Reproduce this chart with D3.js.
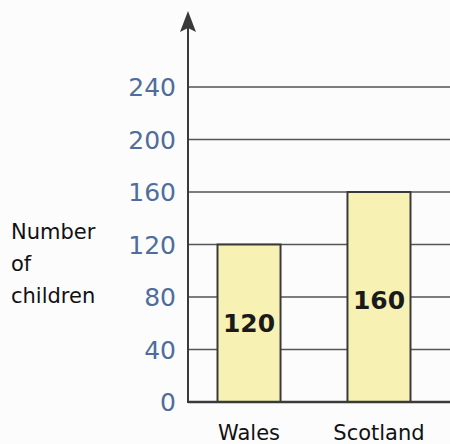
<!DOCTYPE html>
<html>
<head>
<meta charset="utf-8">
<script src="https://cdn.jsdelivr.net/npm/d3@7"></script>
<style>
  html, body { margin: 0; padding: 0; background: #fcfcfc; }
  svg { display: block; }
</style>
</head>
<body>
<svg id="chart" width="450" height="444"></svg>
<script>
const categories = ["Wales", "Scotland"];
const values = [120, 160];
const handLabels = ["120", "160"];
const yTicks = [0, 40, 80, 120, 160, 200, 240];
const yTitle = ["Number", "of", "children"];

const svg = d3.select("#chart");
const W = 450, H = 444;
const axisX = 188, baseY = 402, topY = 87;

const y = d3.scaleLinear().domain([0, 240]).range([baseY, topY]);
const x = d3.scaleBand().domain(categories).range([axisX, 440])
  .paddingInner(0.515).paddingOuter(0.227);

// gridlines
svg.append("g").selectAll("line").data(yTicks.filter(d => d > 0)).join("line")
  .attr("x1", axisX).attr("x2", W)
  .attr("y1", d => y(d)).attr("y2", d => y(d))
  .attr("stroke", "#555").attr("stroke-width", 1.4);

// bars
svg.append("g").selectAll("rect").data(values).join("rect")
  .attr("x", (d, i) => x(categories[i]))
  .attr("y", d => y(d))
  .attr("width", x.bandwidth())
  .attr("height", d => baseY - y(d))
  .attr("fill", "#f8f1b4")
  .attr("stroke", "#3a3a3a").attr("stroke-width", 2);

// baseline
svg.append("line").attr("x1", axisX).attr("x2", W)
  .attr("y1", baseY).attr("y2", baseY)
  .attr("stroke", "#3a3a3a").attr("stroke-width", 2.5);

// y axis line with arrow
svg.append("line").attr("x1", axisX).attr("x2", axisX)
  .attr("y1", baseY + 1).attr("y2", 16)
  .attr("stroke", "#3a3a3a").attr("stroke-width", 2);
svg.append("path")
  .attr("d", `M${axisX},11 L${axisX + 8},32 L${axisX},28 L${axisX - 8},32 Z`)
  .attr("fill", "#3a3a3a");

// y tick labels
svg.append("g").selectAll("text").data(yTicks).join("text")
  .attr("x", 176).attr("y", d => y(d) + 9)
  .attr("text-anchor", "end")
  .attr("font-family", "DejaVu Sans, sans-serif")
  .attr("font-size", 25)
  .attr("fill", "#4f6d9c")
  .text(d => d);

// y title
svg.append("g").selectAll("text").data(yTitle).join("text")
  .attr("x", 11).attr("y", (d, i) => 239 + i * 32)
  .attr("font-family", "DejaVu Sans, sans-serif")
  .attr("font-size", 21)
  .attr("fill", "#111")
  .text(d => d);

// category labels
svg.append("g").selectAll("text").data(categories).join("text")
  .attr("x", d => x(d) + x.bandwidth() / 2)
  .attr("y", 440)
  .attr("text-anchor", "middle")
  .attr("font-family", "DejaVu Sans, sans-serif")
  .attr("font-size", 21)
  .attr("fill", "#111")
  .text(d => d);

// handwritten value labels
const handY = [332, 309];
svg.append("g").selectAll("text").data(handLabels).join("text")
  .attr("x", (d, i) => x(categories[i]) + x.bandwidth() / 2)
  .attr("y", (d, i) => handY[i])
  .attr("text-anchor", "middle")
  .attr("font-family", "DejaVu Sans, sans-serif")
  .attr("font-weight", "bold")
  .attr("font-size", 25)
  .attr("fill", "#1a1a1a")
  .text(d => d);
</script>
</body>
</html>
